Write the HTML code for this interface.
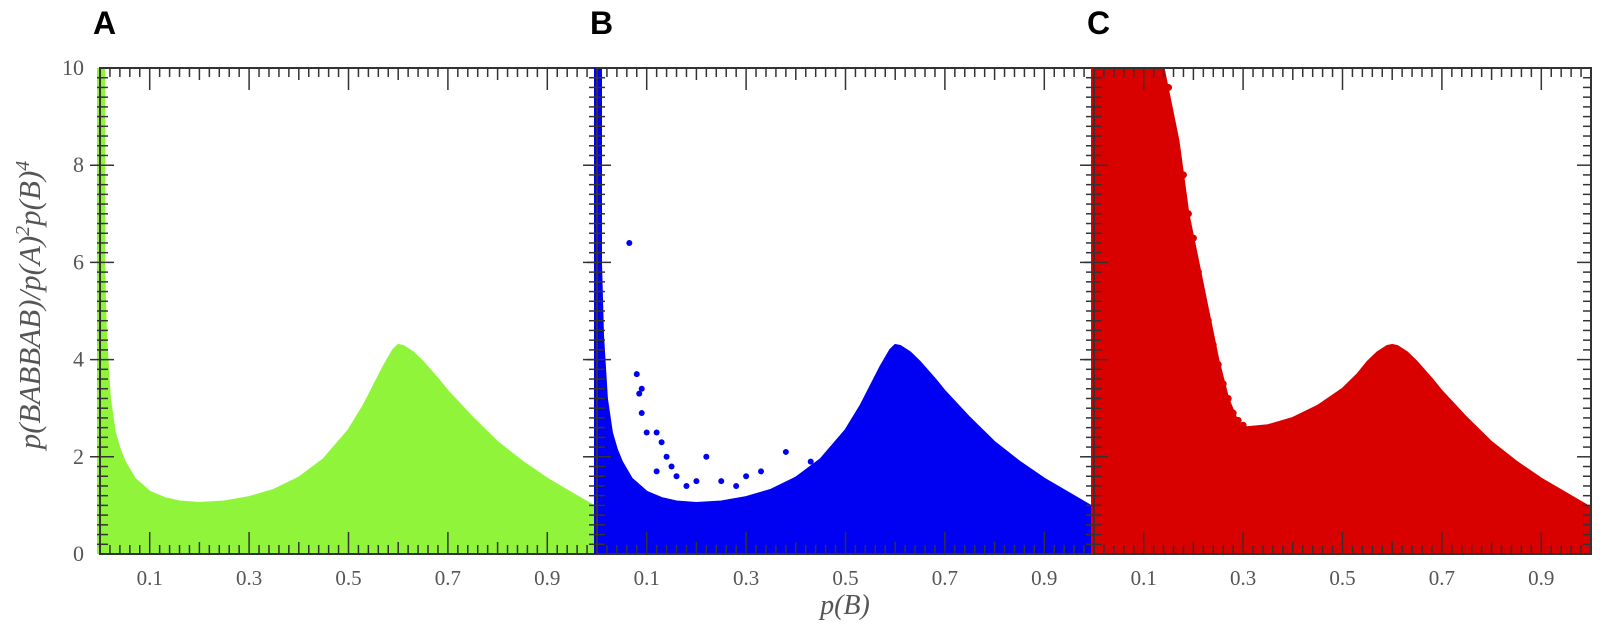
<!DOCTYPE html>
<html><head><meta charset="utf-8"><style>
html,body{margin:0;padding:0;background:#fff;width:1600px;height:624px;overflow:hidden}
svg{display:block}
</style></head><body>
<svg id="chart" width="1600" height="624" viewBox="0 0 1600 624" xmlns="http://www.w3.org/2000/svg">
<g id="panels"></g>
<text x="93" y="34" font-family="Liberation Sans, sans-serif" font-weight="bold" font-size="32">A</text>
<text x="590" y="34" font-family="Liberation Sans, sans-serif" font-weight="bold" font-size="32">B</text>
<text x="1087" y="34" font-family="Liberation Sans, sans-serif" font-weight="bold" font-size="32">C</text>
<text transform="translate(40,305) rotate(-90)" text-anchor="middle" font-family="Liberation Serif, serif" font-style="italic" font-size="31" fill="#555">p(BABBAB)/p(A)<tspan dy="-11" font-size="20">2</tspan><tspan dy="11">p(B)</tspan><tspan dy="-11" font-size="20">4</tspan></text>
<text x="845" y="614" text-anchor="middle" font-family="Liberation Serif, serif" font-style="italic" font-size="28" fill="#555">p(B)</text>
</svg>
<script>
const curveX = [0,0.004,0.008,0.012,0.02,0.03,0.04,0.05,0.07,0.1,0.13,0.16,0.2,0.25,0.3,0.35,0.4,0.45,0.5,0.53,0.55,0.57,0.59,0.6,0.61,0.63,0.65,0.68,0.7,0.75,0.8,0.85,0.9,0.95,1];
const curveY = [10,10,6,4.5,3.2,2.5,2.15,1.9,1.55,1.28,1.15,1.08,1.05,1.08,1.17,1.32,1.57,1.95,2.55,3.05,3.45,3.85,4.2,4.3,4.28,4.15,3.95,3.6,3.35,2.8,2.3,1.9,1.55,1.25,0.95];
const redX = [0,0.14,0.17,0.19,0.21,0.23,0.25,0.27,0.29,0.3,0.35,0.4,0.45,0.5,0.53,0.55,0.57,0.59,0.6,0.61,0.63,0.65,0.68,0.7,0.75,0.8,0.85,0.9,0.95,1];
const redY = [10,10,8.5,7,6,5,4,3.2,2.7,2.6,2.65,2.8,3.05,3.4,3.7,3.95,4.15,4.28,4.3,4.28,4.15,3.95,3.6,3.35,2.8,2.3,1.9,1.55,1.25,0.95];
const blueDotX = [0.065,0.08,0.09,0.085,0.09,0.1,0.12,0.13,0.14,0.15,0.16,0.12,0.22,0.25,0.3,0.33,0.38,0.43,0.46,0.2,0.18,0.28];
const blueDotY = [6.4,3.7,3.4,3.3,2.9,2.5,2.5,2.3,2.0,1.8,1.6,1.7,2.0,1.5,1.6,1.7,2.1,1.9,1.8,1.5,1.4,1.4];
const redDotX = [0.15,0.16,0.18,0.19,0.2,0.21,0.22,0.23,0.24,0.25,0.26,0.27,0.28,0.29,0.3];
const redDotY = [9.6,8.6,7.8,7.0,6.5,5.8,5.2,4.8,4.3,3.9,3.5,3.2,2.9,2.75,2.65];
const xTickLabels = ["0.1","0.3","0.5","0.7","0.9"];
const yTickLabels = ["0","2","4","6","8","10"];

const NS="http://www.w3.org/2000/svg";
const root=document.getElementById('panels');
const Y0=554, Y1=68, PW=497;
const panelX0=[100,597,1094];
const yS=v=>Y0-(v/10)*(Y0-Y1);
function mk(tag,attrs,parent){const e=document.createElementNS(NS,tag);for(const k in attrs)e.setAttribute(k,attrs[k]);parent.appendChild(e);return e;}

function areaPath(xs,ys,xS){
  let d='M'+xS(0)+','+Y0;
  for(let i=0;i<xs.length;i++)d+=' L'+xS(xs[i]).toFixed(1)+','+yS(ys[i]).toFixed(1);
  d+=' L'+xS(1)+','+Y0+' Z';return d;
}
const colors=['#90f53a','#0000f2','#d90000'];
const names=['a','b','c'];
for(let p=0;p<3;p++){
  const x0=panelX0[p];
  const xS=v=>x0+v*PW;
  const g=mk('g',{},root);
  
  
  const xs = p===2?redX:curveX, ys=p===2?redY:curveY;
  const area=mk('path',{d:areaPath(xs,ys,xS),fill:colors[p],'stroke':colors[p],'stroke-width':2,'stroke-linejoin':'round'},g);
  
  
  const strip=mk('rect',{x:xS(0)-3,y:Y1,width:8,height:Y0-Y1,fill:colors[p]},g);
  
  
  if(p===1){
    for(let i=0;i<blueDotX.length;i++){
      const c=mk('circle',{cx:xS(blueDotX[i]),cy:yS(blueDotY[i]),r:3,fill:colors[1]},g);
      
      
    }
  }
  if(p===2){
    for(let i=0;i<redDotX.length;i++){
      const c=mk('circle',{cx:xS(redDotX[i]),cy:yS(redDotY[i]),r:3.5,fill:colors[2]},g);
      
      
    }
  }
  const tk=mk('g',{stroke:'#333','stroke-width':1.5},g);
  
  
  for(let i=1;i<50;i++){
    const v=i/50, X=xS(v), major=(i%10===5);
    const L=major?22:(i%5===0?12:9);
    mk('line',{x1:X,y1:Y0,x2:X,y2:Y0-L},tk);
    mk('line',{x1:X,y1:Y1,x2:X,y2:Y1+L},tk);
  }
  for(let i=1;i<50;i++){
    const v=i/5, Y=yS(v), major=(i%10===0);
    const L=major?14:8;
    mk('line',{x1:xS(0)-(major?10:3),y1:Y,x2:xS(0)+L,y2:Y},tk);
    mk('line',{x1:xS(1),y1:Y,x2:xS(1)-L,y2:Y},tk);
  }
  const fr=mk('rect',{x:xS(0),y:Y1,width:PW,height:Y0-Y1,fill:'none',stroke:'#333','stroke-width':2},g);
  
  
  for(let i=0;i<xTickLabels.length;i++){
    const t=mk('text',{x:xS(0.1+0.2*i),y:585,'text-anchor':'middle','font-family':'Liberation Serif, serif','font-size':21,fill:'#555'},g);
    t.textContent=xTickLabels[i];
    
    
  }
}
for(let i=0;i<yTickLabels.length;i++){
  const t=mk('text',{x:84,y:yS(+yTickLabels[i])+7,'text-anchor':'end','font-family':'Liberation Serif, serif','font-size':22,fill:'#555'},root);
  t.textContent=yTickLabels[i];
  
  
}
</script>
</body></html>
